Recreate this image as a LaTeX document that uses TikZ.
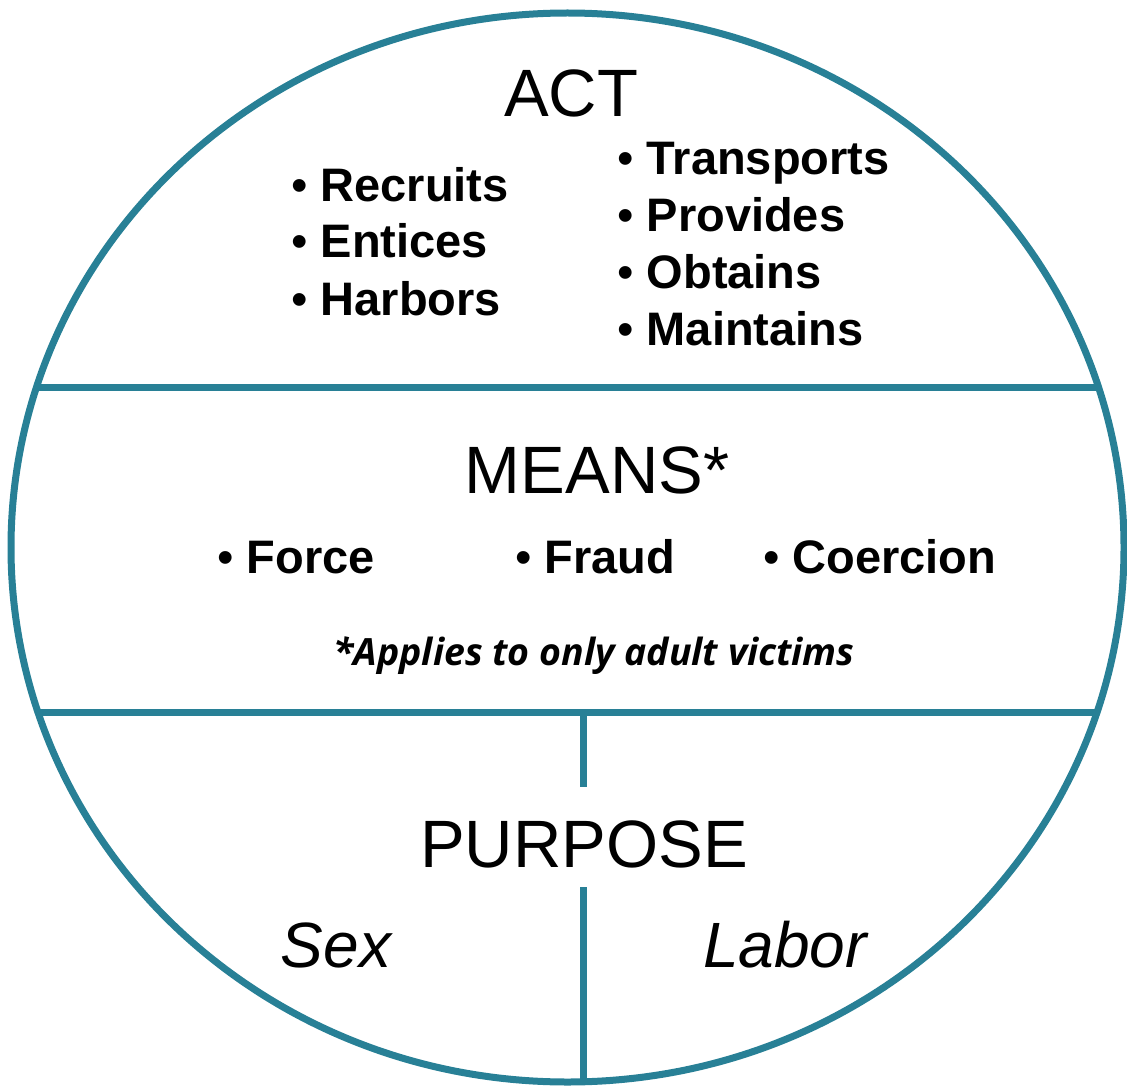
\documentclass[tikz,border=0pt]{standalone}
\usepackage{fontspec}
\setmainfont{Liberation Sans}
\newfontfamily\notefont{Open Sans}
\definecolor{ringteal}{RGB}{40,128,150}
\newcommand{\dotmark}{{\mdseries\textbullet}\ }
\tikzset{
  ring/.style={draw=ringteal, line width=7pt},
  heading/.style={inner sep=0pt, anchor=base, font=\fontsize{67}{67}\selectfont},
  item/.style={inner sep=0pt, anchor=base west, font=\fontsize{47}{47}\selectfont\bfseries},
  kind/.style={inner sep=0pt, anchor=base, font=\fontsize{64}{64}\selectfont\itshape}
}
\begin{document}
\begin{tikzpicture}[x=1pt, y=-1pt]
    \useasboundingbox (0,0) rectangle (1127,1086);
    % Dividers, clipped to the ring
    \begin{scope}
        \clip (567.5,547.5) ellipse [x radius=556.5, y radius=534.5];
        \draw[ring] (0,387) -- (1127,387);
        \draw[ring] (0,712) -- (1127,712);
        \draw[ring] (583,712) -- (583,787);
        \draw[ring] (583,887) -- (583,1090);
    \end{scope}
    % Outer ring
    \draw[ring] (567.5,547.5) ellipse [x radius=556.5, y radius=534.5];
    % Act
    \node[heading] (act) at (571,117) {ACT};
    \foreach \n/\t/\y in {recruits/Recruits/202, entices/Entices/258, harbors/Harbors/315}
        \node[item] (\n) at (291,\y) {\dotmark\t};
    \foreach \n/\t/\y in {transports/Transports/175, provides/Provides/232, obtains/Obtains/288, maintains/Maintains/345}
        \node[item] (\n) at (617,\y) {\dotmark\t};
    % Means
    \node[heading] (means) at (597,493) {MEANS*};
    \foreach \n/\t/\x in {force/Force/217, fraud/Fraud/515, coercion/Coercion/763}
        \node[item] (\n) at (\x,573) {\dotmark\t};
    \node[inner sep=0pt, anchor=base, font=\notefont\fontsize{37.5}{37.5}\selectfont\bfseries\itshape] (note) at (594,665) {*Applies to only adult victims};
    % Purpose
    \node[heading] (purpose) at (584,867) {PURPOSE};
    \node[kind] (sex) at (336,967) {Sex};
    \node[kind] (labor) at (785,967) {Labor};
\end{tikzpicture}
\end{document}
